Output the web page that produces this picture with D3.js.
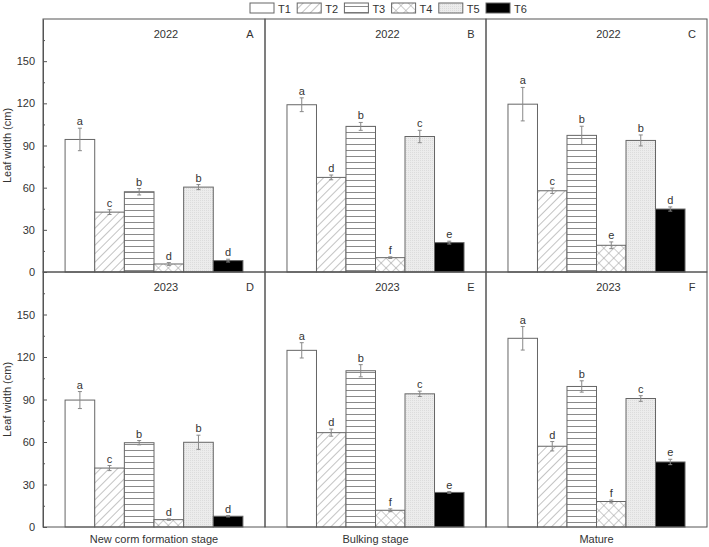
<!DOCTYPE html>
<html><head><meta charset="utf-8">
<script src="https://cdn.jsdelivr.net/npm/d3@7"></script>
<style>body{margin:0;background:#fff}svg{display:block;font-family:"Liberation Sans",Arial,sans-serif}</style>
</head><body><svg id="c" width="709" height="547"></svg>
<script>
const categories = ["T1","T2","T3","T4","T5","T6"];
const stages = ["New corm formation stage","Bulking stage","Mature"];
const years = ["2022","2023"];
const panelLetters = [["A","B","C"],["D","E","F"]];
const values2022 = [[94.3,42.6,57.1,5.7,60.4,8.1],[119,67.3,103.6,10.2,96.4,20.9],[119.4,57.8,97.2,19,93.6,44.8]];
const errors2022 = [[8,1.7,2.3,1,1.8,1],[4.9,1.7,2.8,0.6,4.4,1],[11.9,1.9,6.5,2.4,3.9,1.5]];
const letters2022 = [["a","c","b","d","b","d"],["a","d","b","f","c","e"],["a","c","b","e","b","d"]];
const values2023 = [[89.6,41.6,59.5,5.2,59.8,7.6],[124.7,66.6,110.3,11.8,94,24.4],[133.2,57,99.2,18,90.7,45.9]];
const errors2023 = [[6,1.8,1.5,0.5,5,0.5],[5.4,2.5,4.3,1,1.9,0.6],[8.3,3.3,4,1,2,1.9]];
const letters2023 = [["a","c","b","d","b","d"],["a","d","b","f","c","e"],["a","d","b","f","c","e"]];
const yTicks = [0,30,60,90,120,150];
const yMinor = [15,45,75,105,135,165];
const yLabel = "Leaf width (cm)";

const svg = d3.select("#c");
const defs = svg.append("defs");
// patterns
function pat(id, w, h, rot){
  const p = defs.append("pattern").attr("id",id).attr("patternUnits","userSpaceOnUse").attr("width",w).attr("height",h);
  if(rot) p.attr("patternTransform","rotate("+rot+")");
  return p;
}
let p2 = pat("pT2",6,6,45); p2.append("rect").attr("width",6).attr("height",6).attr("fill","#fff");
p2.append("line").attr("x1",0).attr("y1",0).attr("x2",0).attr("y2",6).attr("stroke","#9a9a9a").attr("stroke-width",1.2);
let p3 = pat("pT3",6,6,0); p3.append("rect").attr("width",6).attr("height",6).attr("fill","#fff");
p3.append("line").attr("x1",0).attr("y1",0.5).attr("x2",6).attr("y2",0.5).attr("stroke","#8a8a8a").attr("stroke-width",1);
let p4 = pat("pT4",7,7,45); p4.append("rect").attr("width",7).attr("height",7).attr("fill","#fff");
p4.append("line").attr("x1",0).attr("y1",0).attr("x2",0).attr("y2",7).attr("stroke","#9a9a9a").attr("stroke-width",1);
p4.append("line").attr("x1",0).attr("y1",0).attr("x2",7).attr("y2",0).attr("stroke","#9a9a9a").attr("stroke-width",1);
let p5 = pat("pT5",2,2,0); p5.append("rect").attr("width",2).attr("height",2).attr("fill","#ececec");
p5.append("rect").attr("width",1).attr("height",1).attr("fill","#dcdcdc");
const fills = ["#ffffff","url(#pT2)","url(#pT3)","url(#pT4)","url(#pT5)","#000000"];

const colX = [43,265,486,707];
const rowY = [[19,272],[272,527]];
const data = [[values2022,errors2022,letters2022],[values2023,errors2023,letters2023]];
const textCol = "#333";

for(let r=0;r<2;r++){
  const y = d3.scaleLinear().domain([0,180]).range([rowY[r][1], rowY[r][0]]);
  for(let c=0;c<3;c++){
    const x = d3.scaleBand().domain(categories).range([colX[c], colX[c+1]]).paddingInner(0).paddingOuter(0.745);
    const g = svg.append("g");
    const vals = data[r][0][c], errs = data[r][1][c], lets = data[r][2][c];
    g.selectAll("rect.bar").data(categories).join("rect").attr("class","bar")
      .attr("x",d=>x(d)).attr("width",x.bandwidth())
      .attr("y",(d,i)=>y(vals[i])).attr("height",(d,i)=>y(0)-y(vals[i]))
      .attr("fill",(d,i)=>fills[i]).attr("stroke","#666").attr("stroke-width",1);
    const cx = d=>x(d)+x.bandwidth()/2;
    g.selectAll("line.eb").data(categories).join("line").attr("class","eb")
      .attr("x1",cx).attr("x2",cx).attr("y1",(d,i)=>y(vals[i]+errs[i])).attr("y2",(d,i)=>y(vals[i]-errs[i]))
      .attr("stroke",(d,i)=>i===5?"#888":"#888").attr("stroke-width",1);
    ["+","-"].forEach(s=>{
      g.selectAll("line.cap"+(s==="+"?"u":"d")).data(categories).join("line").attr("class","cap"+(s==="+"?"u":"d"))
        .attr("x1",d=>cx(d)-2).attr("x2",d=>cx(d)+2)
        .attr("y1",(d,i)=>y(s==="+"?vals[i]+errs[i]:vals[i]-errs[i])).attr("y2",(d,i)=>y(s==="+"?vals[i]+errs[i]:vals[i]-errs[i]))
        .attr("stroke","#888").attr("stroke-width",1);
    });
    g.selectAll("text.sig").data(categories).join("text").attr("class","sig")
      .attr("x",cx).attr("y",(d,i)=>y(vals[i]+errs[i])-3).attr("text-anchor","middle")
      .attr("font-size",11).attr("fill",textCol).text((d,i)=>lets[i]);
    // year and panel letter
    const mid = (colX[c]+colX[c+1])/2;
    svg.append("text").attr("x",mid+12).attr("y",rowY[r][0]+19).attr("text-anchor","middle")
      .attr("font-size",11).attr("fill",textCol).text(years[r]);
    svg.append("text").attr("x",colX[c+1]-15).attr("y",rowY[r][0]+19).attr("text-anchor","middle")
      .attr("font-size",11).attr("fill",textCol).text(panelLetters[r][c]);
    // frame
    svg.append("rect").attr("x",colX[c]).attr("y",rowY[r][0]).attr("width",colX[c+1]-colX[c]).attr("height",rowY[r][1]-rowY[r][0])
      .attr("fill","none").attr("stroke","#555").attr("stroke-width",1);
  }
  // y axis
  const ax = svg.append("g").attr("transform","translate("+colX[0]+",0)")
    .call(d3.axisLeft(y).tickValues(yTicks).tickSize(-4).tickPadding(8).tickSizeOuter(0));
  ax.select(".domain").attr("stroke","#555");
  ax.selectAll(".tick line").attr("stroke","#555");
  ax.selectAll(".tick text").attr("font-size",11).attr("fill",textCol).attr("font-family","Liberation Sans, Arial, sans-serif");
  const axm = svg.append("g").attr("transform","translate("+colX[0]+",0)")
    .call(d3.axisLeft(y).tickValues(yMinor).tickSize(-2).tickFormat("").tickSizeOuter(0));
  axm.select(".domain").remove();
  axm.selectAll(".tick line").attr("stroke","#555");
  const ym = (rowY[r][0]+rowY[r][1])/2;
  svg.append("text").attr("transform","translate(11,"+ym+") rotate(-90)").attr("text-anchor","middle")
    .attr("font-size",11).attr("fill",textCol).text(yLabel);
}
// x titles
stages.forEach((s,c)=>{
  svg.append("text").attr("x",(colX[c]+colX[c+1])/2).attr("y",543).attr("text-anchor","middle")
    .attr("font-size",11).attr("fill",textCol).text(s);
});
// legend
const lg = svg.append("g");
categories.forEach((t,i)=>{
  const lx = 250 + i*47.2;
  lg.append("rect").attr("x",lx).attr("y",3).attr("width",24).attr("height",10).attr("fill",fills[i]).attr("stroke","#666");
  lg.append("text").attr("x",lx+28).attr("y",12.5).attr("font-size",11).attr("fill",textCol).text(t);
});
</script></body></html>
